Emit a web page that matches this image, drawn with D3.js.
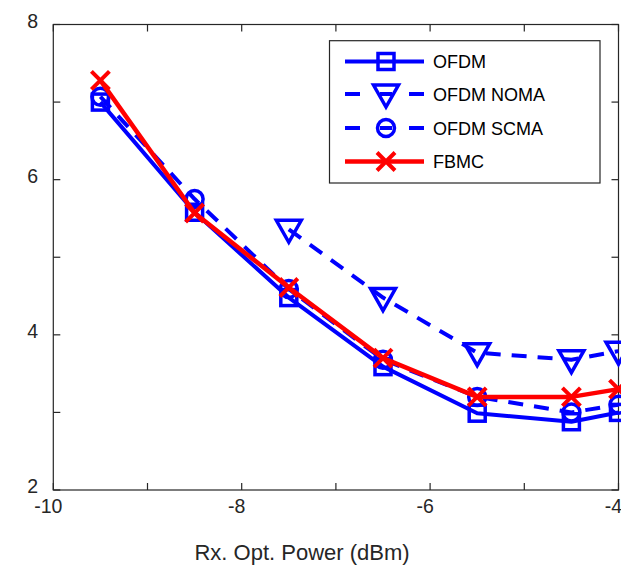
<!DOCTYPE html>
<html>
<head>
<meta charset="utf-8">
<script src="https://cdn.jsdelivr.net/npm/d3@7"></script>
<style>
  body { margin: 0; background: #fff; }
  svg { display: block; font-family: "Liberation Sans", Arial, sans-serif; }
</style>
</head>
<body>
<script>
// data
var powerAll = [-9.5, -8.5, -7.5, -6.5, -5.5, -4.5, -4];
var ofdm = [7.0, 5.58, 4.48, 3.59, 2.99, 2.88, 3.0];
var powerNoma = [-7.5, -6.5, -5.5, -4.5, -4];
var ofdmNoma = [5.36, 4.48, 3.77, 3.68, 3.79];
var ofdmScma = [7.07, 5.75, 4.59, 3.68, 3.2, 3.0, 3.1];
var fbmc = [7.28, 5.57, 4.61, 3.7, 3.2, 3.2, 3.3];
var xTicks = [-10, -9, -8, -7, -6, -5, -4];
var xLabels = [-10, -8, -6, -4];
var yTicks = [2, 3, 4, 5, 6, 7, 8];
var yLabels = [2, 4, 6, 8];
var seriesNames = ["OFDM", "OFDM NOMA", "OFDM SCMA", "FBMC"];

var W = 621, H = 565;
var pLeft = 53.3, pRight = 618.5, pTop = 24.5, pBottom = 490;
var BLUE = "#0000ff", RED = "#ff0000", AX = "#262626";

var series = [
  {name: seriesNames[0], xs: powerAll, ys: ofdm, color: BLUE, dash: null, marker: "square"},
  {name: seriesNames[1], xs: powerNoma, ys: ofdmNoma, color: BLUE, dash: "15,11", marker: "tri"},
  {name: seriesNames[2], xs: powerAll, ys: ofdmScma, color: BLUE, dash: "15,11", marker: "circle"},
  {name: seriesNames[3], xs: powerAll, ys: fbmc, color: RED, dash: null, marker: "x"}
];

var x = d3.scaleLinear().domain([-10, -4]).range([pLeft, pRight]);
var y = d3.scaleLinear().domain([2, 8]).range([pBottom, pTop]);

var svg = d3.select("body").append("svg")
  .attr("width", W).attr("height", H);

// box + inward ticks on all sides
var ax = svg.append("g");
ax.append("rect")
  .attr("x", pLeft).attr("y", pTop)
  .attr("width", pRight - pLeft).attr("height", pBottom - pTop)
  .attr("fill", "none").attr("stroke", AX).attr("stroke-width", 1.2);

xTicks.forEach(function(t) {
  ax.append("line").attr("x1", x(t)).attr("x2", x(t)).attr("y1", pBottom).attr("y2", pBottom - 7)
    .attr("stroke", AX).attr("stroke-width", 1.2);
  ax.append("line").attr("x1", x(t)).attr("x2", x(t)).attr("y1", pTop).attr("y2", pTop + 7)
    .attr("stroke", AX).attr("stroke-width", 1.2);
});
yTicks.forEach(function(t) {
  ax.append("line").attr("x1", pLeft).attr("x2", pLeft + 7).attr("y1", y(t)).attr("y2", y(t))
    .attr("stroke", AX).attr("stroke-width", 1.2);
  ax.append("line").attr("x1", pRight).attr("x2", pRight - 7).attr("y1", y(t)).attr("y2", y(t))
    .attr("stroke", AX).attr("stroke-width", 1.2);
});

ax.selectAll(".xl").data(xLabels).enter().append("text")
  .attr("x", d => x(d) - 5).attr("y", pBottom + 23)
  .attr("text-anchor", "middle").attr("font-size", 19.5).attr("fill", "#262626")
  .text(d => d);

ax.selectAll(".yl").data(yLabels).enter().append("text")
  .attr("x", 38).attr("y", d => y(d) + 3)
  .attr("text-anchor", "end").attr("font-size", 19.5).attr("fill", "#262626")
  .text(d => d);

svg.append("text")
  .attr("x", 302).attr("y", 560)
  .attr("text-anchor", "middle").attr("font-size", 22).attr("fill", "#262626")
  .text("Rx. Opt. Power (dBm)");

function drawMarker(g, kind, cx, cy, color) {
  if (kind === "square") {
    g.append("rect").attr("x", cx - 8).attr("y", cy - 8).attr("width", 16).attr("height", 16)
      .attr("fill", "none").attr("stroke", color).attr("stroke-width", 3.5);
  } else if (kind === "circle") {
    g.append("circle").attr("cx", cx).attr("cy", cy).attr("r", 8.5)
      .attr("fill", "none").attr("stroke", color).attr("stroke-width", 3.5);
  } else if (kind === "tri") {
    g.append("path")
      .attr("d", "M" + (cx - 12.5) + "," + (cy - 9) + "L" + (cx + 12.5) + "," + (cy - 9) + "L" + cx + "," + (cy + 13) + "Z")
      .attr("fill", "none").attr("stroke", color).attr("stroke-width", 3.5).attr("stroke-linejoin", "miter");
  } else {
    g.append("path")
      .attr("d", "M" + (cx - 9) + "," + (cy - 9) + "L" + (cx + 9) + "," + (cy + 9) +
                 "M" + (cx - 9) + "," + (cy + 9) + "L" + (cx + 9) + "," + (cy - 9))
      .attr("stroke", color).attr("stroke-width", 4);
  }
}

var plot = svg.append("g");
var line = d3.line().x(d => x(d[0])).y(d => y(d[1]));

series.forEach(function(s) {
  var pts = s.xs.map((v, i) => [v, s.ys[i]]);
  var g = plot.append("g");
  g.append("path").datum(pts)
    .attr("d", line)
    .attr("fill", "none").attr("stroke", s.color)
    .attr("stroke-width", s.color === RED ? 4.5 : 4)
    .attr("stroke-dasharray", s.dash)
    .attr("stroke-linejoin", "round");
  pts.forEach(function(p) { drawMarker(g, s.marker, x(p[0]), y(p[1]), s.color); });
});

// legend
var lg = svg.append("g");
lg.append("rect").attr("x", 329.5).attr("y", 40.7).attr("width", 270.5).attr("height", 142.3)
  .attr("fill", "#fff").attr("stroke", AX).attr("stroke-width", 1.2);
var rowsY = [61.5, 94, 128, 161.5];
series.forEach(function(s, i) {
  var ly = rowsY[i];
  var g = lg.append("g");
  if (s.dash) {
    g.append("line").attr("x1", 345).attr("x2", 360).attr("y1", ly).attr("y2", ly)
      .attr("stroke", s.color).attr("stroke-width", 4);
    g.append("line").attr("x1", 409).attr("x2", 424).attr("y1", ly).attr("y2", ly)
      .attr("stroke", s.color).attr("stroke-width", 4);
    g.append("line").attr("x1", 380).attr("x2", 392).attr("y1", ly).attr("y2", ly)
      .attr("stroke", s.color).attr("stroke-width", 4);
  } else {
    g.append("line").attr("x1", 345).attr("x2", 424).attr("y1", ly).attr("y2", ly)
      .attr("stroke", s.color).attr("stroke-width", s.color === RED ? 4.5 : 4);
  }
  drawMarker(g, s.marker, 386, ly, s.color);
  g.append("text").attr("x", 433).attr("y", ly + 6.5)
    .attr("font-size", 18).attr("fill", "#000").text(s.name);
});
</script>
</body>
</html>
